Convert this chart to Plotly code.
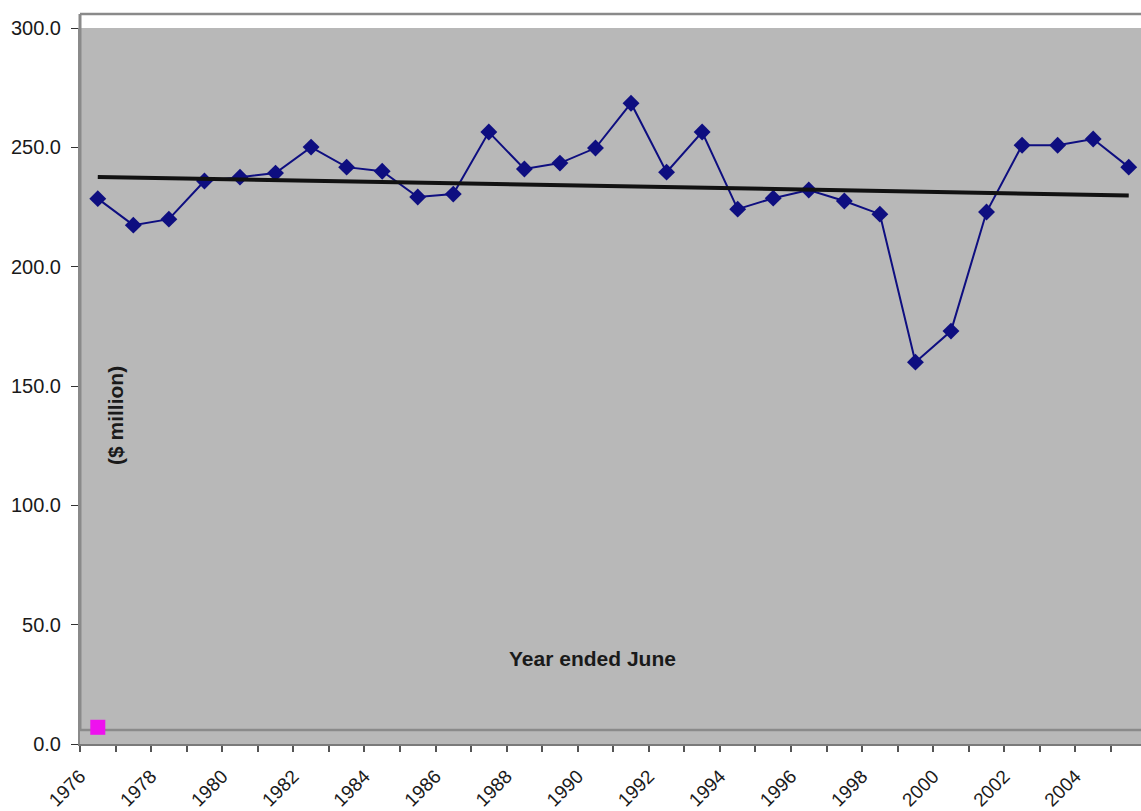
import numpy as np
import plotly.graph_objects as go

# Annual values, year ended June ($ million)
years = list(range(1976, 2006))
values = [228.5, 217.4, 219.9, 235.9, 237.5, 239.2, 250.1, 241.7, 240.0, 229.2,
          230.4, 256.4, 240.9, 243.4, 249.7, 268.5, 239.6, 256.4, 224.1, 228.7,
          232.1, 227.5, 222.0, 160.0, 173.0, 222.9, 250.9, 250.9, 253.5, 241.7]
label_years = list(range(1976, 2006, 2))
y_ticks = [0, 50, 100, 150, 200, 250, 300]
marker_year = [1976]
marker_value = [7.0]

# Linear trend over the whole period
slope, intercept = np.polyfit(years, values, 1)
trend = [slope * yr + intercept for yr in years]

FONT = "Arial, Liberation Sans, sans-serif"
W, H = 1141, 811
L, T, B = 80, 28, 67
plot_h = H - T - B
plot_w = W - L

fig = go.Figure()
fig.add_trace(go.Scatter(
    x=years, y=values, mode="lines+markers",
    line=dict(color="#0e0e80", width=2),
    marker=dict(symbol="diamond", size=13, color="#0e0e80"),
    showlegend=False, cliponaxis=False,
))
fig.add_trace(go.Scatter(
    x=[years[0], years[-1]], y=[trend[0], trend[-1]], mode="lines",
    line=dict(color="#111111", width=4),
    showlegend=False,
))
fig.add_trace(go.Scatter(
    x=marker_year, y=marker_value, mode="markers",
    marker=dict(symbol="square", size=15, color="#ee11ee"),
    showlegend=False,
))

def py(pix):
    # pixel row -> paper y
    return (H - B - pix) / plot_h

def px(pix):
    # pixel column -> paper x
    return (pix - L) / plot_w

# frame drawn around the chart block
fig.add_shape(type="line", xref="paper", yref="paper", x0=0, x1=1.05,
              y0=py(14), y1=py(14), line=dict(color="#8a8a8a", width=2.5), layer="above")
fig.add_shape(type="line", xref="paper", yref="paper", x0=0, x1=1.05,
              y0=py(730), y1=py(730), line=dict(color="#8a8a8a", width=2.5), layer="below")
fig.add_shape(type="line", xref="paper", yref="paper", x0=0, x1=0,
              y0=py(14), y1=py(730), line=dict(color="#8a8a8a", width=3), layer="above")

fig.add_annotation(text="<b>($ million)</b>", xref="paper", yref="paper",
                   x=px(116), y=py(416), xanchor="center", yanchor="middle",
                   showarrow=False, textangle=-90,
                   font=dict(family=FONT, size=21, color="#1a1a1a"))
fig.add_annotation(text="<b>Year ended June</b>", xref="paper", yref="paper",
                   x=px(592), y=py(658), xanchor="center", yanchor="middle",
                   showarrow=False,
                   font=dict(family=FONT, size=21, color="#1a1a1a"))

fig.update_layout(
    width=W, height=H,
    margin=dict(l=L, r=0, t=T, b=B, pad=0),
    paper_bgcolor="white", plot_bgcolor="#b8b8b8",
    font=dict(family=FONT, color="#1a1a1a"),
    xaxis=dict(
        range=[1975.5, 2005.345], showgrid=False, zeroline=False,
        tickmode="array", tickvals=[y - 0.5 for y in label_years],
        ticktext=[str(y) for y in label_years],
        ticks="", tickangle=-45, tickfont=dict(size=19),
        ticklabelstandoff=12,
        showline=True, linecolor="#7a7a7a", linewidth=1.5,
        minor=dict(tickmode="array", tickvals=[y + 0.5 for y in range(1975, 2006)],
                   ticks="outside", ticklen=6, tickcolor="#555555", tickwidth=1.5),
    ),
    yaxis=dict(
        range=[0, 300], showgrid=False, zeroline=False,
        tickmode="array", tickvals=y_ticks, tickformat=".1f",
        ticks="outside", ticklen=7, tickcolor="#333333", tickwidth=1,
        tickfont=dict(size=20), ticklabelstandoff=6,
        showline=True, linecolor="#8a8a8a", linewidth=2,
    ),
)

fig.write_html("out.html")
